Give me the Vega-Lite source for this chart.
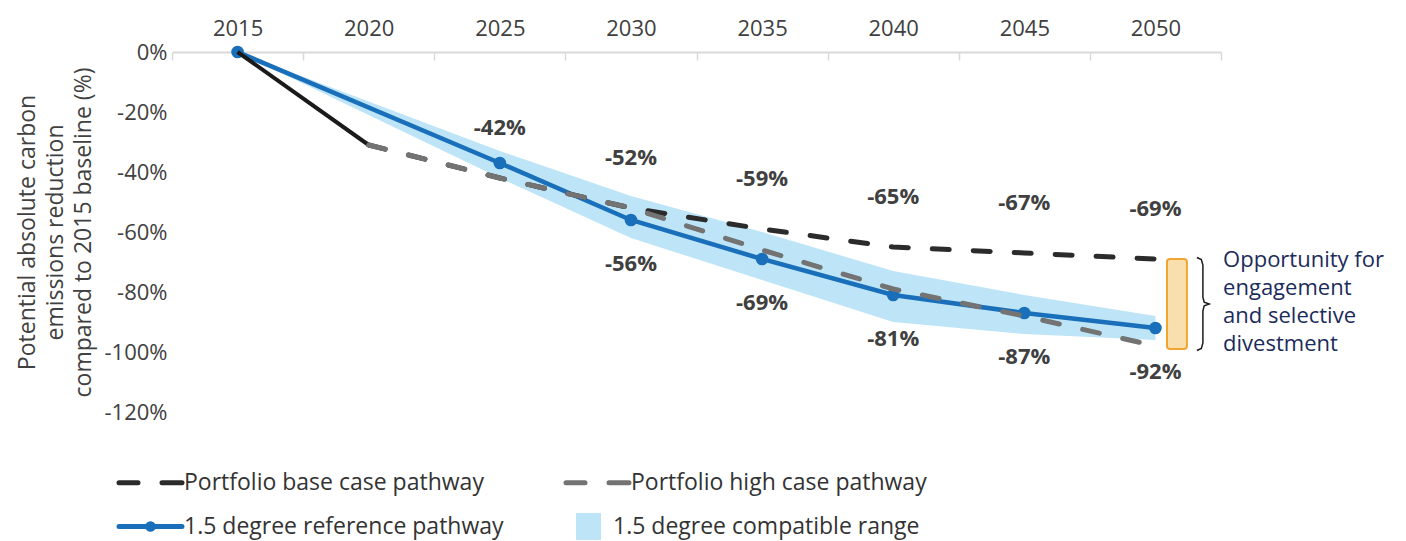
{
  "$schema": "https://vega.github.io/schema/vega-lite/v6.json",
  "width": 1049,
  "height": 360,
  "autosize": {"type": "none"},
  "padding": {"left": 172, "top": 52, "right": 185, "bottom": 129},
  "config": {"view": {"stroke": null}, "font": "Open Sans"},
  "datasets": {
    "lines": [
      {"series": "Portfolio base case pathway", "year": 2020, "value": -31},
      {"series": "Portfolio base case pathway", "year": 2025, "value": -42, "label": "-42%"},
      {"series": "Portfolio base case pathway", "year": 2030, "value": -52, "label": "-52%"},
      {"series": "Portfolio base case pathway", "year": 2035, "value": -59, "label": "-59%"},
      {"series": "Portfolio base case pathway", "year": 2040, "value": -65, "label": "-65%"},
      {"series": "Portfolio base case pathway", "year": 2045, "value": -67, "label": "-67%"},
      {"series": "Portfolio base case pathway", "year": 2050, "value": -69, "label": "-69%"},
      {"series": "Portfolio high case pathway", "year": 2020, "value": -31},
      {"series": "Portfolio high case pathway", "year": 2025, "value": -42},
      {"series": "Portfolio high case pathway", "year": 2030, "value": -52},
      {"series": "Portfolio high case pathway", "year": 2035, "value": -66},
      {"series": "Portfolio high case pathway", "year": 2040, "value": -79},
      {"series": "Portfolio high case pathway", "year": 2045, "value": -88},
      {"series": "Portfolio high case pathway", "year": 2050, "value": -98},
      {"series": "1.5 degree reference pathway", "year": 2015, "value": 0},
      {"series": "1.5 degree reference pathway", "year": 2025, "value": -37},
      {"series": "1.5 degree reference pathway", "year": 2030, "value": -56, "label": "-56%"},
      {"series": "1.5 degree reference pathway", "year": 2035, "value": -69, "label": "-69%"},
      {"series": "1.5 degree reference pathway", "year": 2040, "value": -81, "label": "-81%"},
      {"series": "1.5 degree reference pathway", "year": 2045, "value": -87, "label": "-87%"},
      {"series": "1.5 degree reference pathway", "year": 2050, "value": -92, "label": "-92%"}
    ],
    "hist": [
      {"year": 2015, "value": 0},
      {"year": 2020, "value": -31}
    ],
    "range": [
      {"series": "1.5 degree compatible range", "year": 2015, "lo": 0, "hi": 0},
      {"series": "1.5 degree compatible range", "year": 2025, "lo": -42, "hi": -33},
      {"series": "1.5 degree compatible range", "year": 2030, "lo": -62, "hi": -48},
      {"series": "1.5 degree compatible range", "year": 2035, "lo": -76, "hi": -60},
      {"series": "1.5 degree compatible range", "year": 2040, "lo": -90, "hi": -73},
      {"series": "1.5 degree compatible range", "year": 2045, "lo": -94, "hi": -81},
      {"series": "1.5 degree compatible range", "year": 2050, "lo": -96, "hi": -88}
    ]
  },
  "layer": [
    {
      "data": {"name": "range"},
      "mark": {"type": "area", "opacity": 1},
      "encoding": {
        "x": {
          "field": "year", "type": "quantitative",
          "scale": {"domain": [2012.5, 2052.5], "nice": false, "zero": false},
          "axis": {
            "orient": "top",
            "values": [2012.5, 2017.5, 2022.5, 2027.5, 2032.5, 2037.5, 2042.5, 2047.5, 2052.5],
            "labelExpr": "datum.value < 2050 ? '' + (datum.value + 2.5) : ''",
            "labelOffset": 65.56,
            "labelOverlap": false,
            "labelBound": false,
            "labelFlush": false,
            "domainColor": "#d9d9d9",
            "domainWidth": 2,
            "tickColor": "#d9d9d9",
            "tickWidth": 1.5,
            "tickSize": -8,
            "labelFontSize": 22,
            "labelColor": "#404040",
            "labelPadding": 20,
            "grid": false,
            "title": null
          }
        },
        "y": {
          "field": "lo", "type": "quantitative",
          "scale": {"domain": [-120, 0], "nice": false},
          "axis": {
            "values": [-120, -100, -80, -60, -40, -20, 0],
            "labelExpr": "datum.value + '%'",
            "domain": false,
            "ticks": false,
            "grid": false,
            "labelFontSize": 22,
            "labelColor": "#404040",
            "labelPadding": 5,
            "title": ["Potential absolute carbon", "emissions reduction", "compared to 2015 baseline (%)"],
            "titleFontSize": 23,
            "titleFontWeight": "normal",
            "titleColor": "#404040",
            "titleLineHeight": 28,
            "titlePadding": 8
          }
        },
        "y2": {"field": "hi"},
        "color": {
          "field": "series", "type": "nominal",
          "scale": {
            "domain": ["Portfolio base case pathway", "Portfolio high case pathway", "1.5 degree reference pathway", "1.5 degree compatible range"],
            "range": ["#2b2b2b", "#737373", "#1a6fba", "#bde5f7"]
          },
          "legend": {
            "orient": "none", "direction": "horizontal", "legendX": -58, "legendY": 418, "columns": 2, "columnPadding": 52, "rowPadding": 10,
            "title": null, "padding": 0, "symbolSize": 400, "labelOffset": 45, "labelFontSize": 23,
            "labelColor": "#333333", "labelFont": "Open Sans", "labelLimit": 0,
            "encode": {
              "symbols": {"update": {
                "shape": {"signal": "datum.index < 2 ? 'M-0.75,0H1.15M3.55,0H5.55' : datum.index == 2 ? 'M-0.75,0H5.55M2.12,0A0.28,0.28,0,1,0,2.68,0A0.28,0.28,0,1,0,2.12,0' : 'M0.5,-1.1H2.5V1.1H0.5Z'"},
                "stroke": {"signal": "datum.index == 0 ? '#2b2b2b' : datum.index == 1 ? '#737373' : datum.index == 2 ? '#1a6fba' : 'transparent'"},
                "fill": {"signal": "datum.index == 2 ? '#1a6fba' : datum.index == 3 ? '#8cc8ee' : 'transparent'"},
                "strokeWidth": {"value": 5},
                "strokeCap": {"value": "round"},
                "strokeDash": {"value": []},
                "opacity": {"value": 1},
                "size": {"value": 400}
              }},
              "labels": {"update": {"dx": {"signal": "datum.index == 3 ? -18 : 0"}}}
            }
          }
        }
      }
    },
    {
      "data": {"name": "lines"},
      "transform": [{"filter": "datum.series == '1.5 degree reference pathway'"}],
      "mark": {"type": "line", "strokeWidth": 4.5},
      "encoding": {
        "x": {"field": "year", "type": "quantitative"},
        "y": {"field": "value", "type": "quantitative"},
        "color": {
          "field": "series", "type": "nominal",
          "legend": {
            "orient": "none", "direction": "horizontal", "legendX": -58, "legendY": 418, "columns": 2, "columnPadding": 52, "rowPadding": 10,
            "title": null, "padding": 0, "symbolSize": 400, "labelOffset": 45, "labelFontSize": 23,
            "labelColor": "#333333", "labelFont": "Open Sans", "labelLimit": 0,
            "encode": {
              "symbols": {"update": {
                "shape": {"signal": "datum.index < 2 ? 'M-0.75,0H1.15M3.55,0H5.55' : datum.index == 2 ? 'M-0.75,0H5.55M2.12,0A0.28,0.28,0,1,0,2.68,0A0.28,0.28,0,1,0,2.12,0' : 'M0.5,-1.1H2.5V1.1H0.5Z'"},
                "stroke": {"signal": "datum.index == 0 ? '#2b2b2b' : datum.index == 1 ? '#737373' : datum.index == 2 ? '#1a6fba' : 'transparent'"},
                "fill": {"signal": "datum.index == 2 ? '#1a6fba' : datum.index == 3 ? '#8cc8ee' : 'transparent'"},
                "strokeWidth": {"value": 5},
                "strokeCap": {"value": "round"},
                "strokeDash": {"value": []},
                "opacity": {"value": 1},
                "size": {"value": 400}
              }},
              "labels": {"update": {"dx": {"signal": "datum.index == 3 ? -18 : 0"}}}
            }
          }
        }
      }
    },
    {
      "data": {"name": "lines"},
      "transform": [{"filter": "datum.series == '1.5 degree reference pathway'"}],
      "mark": {"type": "point", "filled": true, "size": 160, "opacity": 1},
      "encoding": {
        "x": {"field": "year", "type": "quantitative"},
        "y": {"field": "value", "type": "quantitative"},
        "color": {
          "field": "series", "type": "nominal",
          "legend": {
            "orient": "none", "direction": "horizontal", "legendX": -58, "legendY": 418, "columns": 2, "columnPadding": 52, "rowPadding": 10,
            "title": null, "padding": 0, "symbolSize": 400, "labelOffset": 45, "labelFontSize": 23,
            "labelColor": "#333333", "labelFont": "Open Sans", "labelLimit": 0,
            "encode": {
              "symbols": {"update": {
                "shape": {"signal": "datum.index < 2 ? 'M-0.75,0H1.15M3.55,0H5.55' : datum.index == 2 ? 'M-0.75,0H5.55M2.12,0A0.28,0.28,0,1,0,2.68,0A0.28,0.28,0,1,0,2.12,0' : 'M0.5,-1.1H2.5V1.1H0.5Z'"},
                "stroke": {"signal": "datum.index == 0 ? '#2b2b2b' : datum.index == 1 ? '#737373' : datum.index == 2 ? '#1a6fba' : 'transparent'"},
                "fill": {"signal": "datum.index == 2 ? '#1a6fba' : datum.index == 3 ? '#8cc8ee' : 'transparent'"},
                "strokeWidth": {"value": 5},
                "strokeCap": {"value": "round"},
                "strokeDash": {"value": []},
                "opacity": {"value": 1},
                "size": {"value": 400}
              }},
              "labels": {"update": {"dx": {"signal": "datum.index == 3 ? -18 : 0"}}}
            }
          }
        }
      }
    },
    {
      "data": {"name": "hist"},
      "mark": {"type": "line", "strokeWidth": 4, "color": "#1a1a1a"},
      "encoding": {
        "x": {"field": "year", "type": "quantitative"},
        "y": {"field": "value", "type": "quantitative"}
      }
    },
    {
      "data": {"name": "lines"},
      "transform": [{"filter": "datum.series != '1.5 degree reference pathway'"}],
      "mark": {"type": "line", "strokeWidth": 5, "strokeDash": [17, 24], "strokeCap": "round"},
      "encoding": {
        "x": {"field": "year", "type": "quantitative"},
        "y": {"field": "value", "type": "quantitative"},
        "color": {
          "field": "series", "type": "nominal",
          "legend": {
            "orient": "none", "direction": "horizontal", "legendX": -58, "legendY": 418, "columns": 2, "columnPadding": 52, "rowPadding": 10,
            "title": null, "padding": 0, "symbolSize": 400, "labelOffset": 45, "labelFontSize": 23,
            "labelColor": "#333333", "labelFont": "Open Sans", "labelLimit": 0,
            "encode": {
              "symbols": {"update": {
                "shape": {"signal": "datum.index < 2 ? 'M-0.75,0H1.15M3.55,0H5.55' : datum.index == 2 ? 'M-0.75,0H5.55M2.12,0A0.28,0.28,0,1,0,2.68,0A0.28,0.28,0,1,0,2.12,0' : 'M0.5,-1.1H2.5V1.1H0.5Z'"},
                "stroke": {"signal": "datum.index == 0 ? '#2b2b2b' : datum.index == 1 ? '#737373' : datum.index == 2 ? '#1a6fba' : 'transparent'"},
                "fill": {"signal": "datum.index == 2 ? '#1a6fba' : datum.index == 3 ? '#8cc8ee' : 'transparent'"},
                "strokeWidth": {"value": 5},
                "strokeCap": {"value": "round"},
                "strokeDash": {"value": []},
                "opacity": {"value": 1},
                "size": {"value": 400}
              }},
              "labels": {"update": {"dx": {"signal": "datum.index == 3 ? -18 : 0"}}}
            }
          }
        }
      }
    },
    {
      "data": {"values": [{}]},
      "mark": {"type": "rect", "fill": "#f9dfae", "stroke": "#f0a530", "strokeWidth": 2, "cornerRadius": 3},
      "encoding": {
        "x": {"datum": 2050.44, "type": "quantitative"},
        "x2": {"datum": 2051.2},
        "y": {"datum": -69, "type": "quantitative"},
        "y2": {"datum": -99}
      }
    },
    {
      "data": {"values": [
        {"i": 0, "bx": 2051.58, "by": -68.5},
        {"i": 1, "bx": 2051.75, "by": -69.2},
        {"i": 2, "bx": 2051.81, "by": -71},
        {"i": 3, "bx": 2051.81, "by": -81.7},
        {"i": 4, "bx": 2051.86, "by": -83.4},
        {"i": 5, "bx": 2052.05, "by": -84},
        {"i": 6, "bx": 2051.86, "by": -84.6},
        {"i": 7, "bx": 2051.81, "by": -86.3},
        {"i": 8, "bx": 2051.81, "by": -97},
        {"i": 9, "bx": 2051.75, "by": -98.8},
        {"i": 10, "bx": 2051.58, "by": -99.5}
      ]},
      "mark": {"type": "line", "color": "#1a1a1a", "strokeWidth": 1.5},
      "encoding": {
        "x": {"field": "bx", "type": "quantitative"},
        "y": {"field": "by", "type": "quantitative"},
        "order": {"field": "i", "type": "quantitative"}
      }
    },
    {
      "data": {"values": [{}]},
      "mark": {"type": "text", "align": "left", "baseline": "middle", "fontSize": 22, "lineHeight": 28, "color": "#1b2b5b", "font": "Open Sans"},
      "encoding": {
        "x": {"datum": 2052.58, "type": "quantitative"},
        "y": {"datum": -69.3, "type": "quantitative"},
        "text": {"value": ["Opportunity for", "engagement", "and selective", "divestment"]}
      }
    },
    {
      "data": {"name": "lines"},
      "transform": [{"filter": "datum.series == 'Portfolio base case pathway' && datum.label"}],
      "mark": {"type": "text", "fontSize": 22, "fontWeight": "bold", "color": "#404040", "dy": -50, "baseline": "middle"},
      "encoding": {
        "x": {"field": "year", "type": "quantitative"},
        "y": {"field": "value", "type": "quantitative"},
        "text": {"field": "label"}
      }
    },
    {
      "data": {"name": "lines"},
      "transform": [{"filter": "datum.series == '1.5 degree reference pathway' && datum.label"}],
      "mark": {"type": "text", "fontSize": 22, "fontWeight": "bold", "color": "#404040", "dy": 44, "baseline": "middle"},
      "encoding": {
        "x": {"field": "year", "type": "quantitative"},
        "y": {"field": "value", "type": "quantitative"},
        "text": {"field": "label"}
      }
    }
  ]
}
